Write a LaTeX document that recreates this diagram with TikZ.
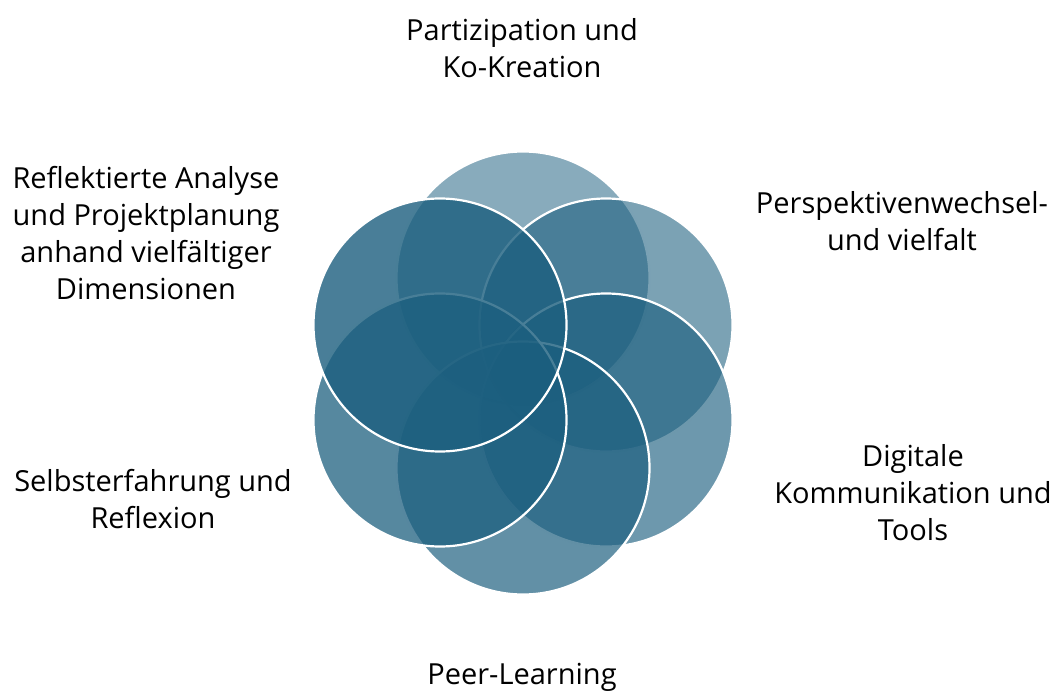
\documentclass[tikz,border=0pt]{standalone}
\usepackage{fontspec}
\setmainfont{Open Sans}
\definecolor{ringblue}{RGB}{27,94,126}
\tikzset{
  ring/.style={circle, draw=white, line width=2.2pt, fill=ringblue,
    minimum size=253pt, inner sep=0pt},
  ringtext/.style={align=center, font=\fontsize{29}{37}\selectfont, inner sep=0pt}
}

\begin{document}
\begin{tikzpicture}[x=1pt,y=-1pt]
    \useasboundingbox (0,0) rectangle (1055,695);
    % circles, drawn in order round the ring
    \foreach \n/\px/\py/\o in {top/523/278/0.52, ur/606/325/0.58, lr/606/420/0.64,
        bot/523/468/0.69, ll/440/420/0.74, ul/440/325/0.80}
      \node[ring, fill opacity=\o] (\n) at (\px,\py) {};
    % labels
    \node[ringtext] (partizipation) at (522,48) {Partizipation und\\Ko-Kreation};
    \node[ringtext] (perspektive) at (902,221) {Perspektivenwechsel-\\und vielfalt};
    \node[ringtext] (digital) at (913,493) {Digitale\\Kommunikation und\\Tools};
    \node[ringtext] (peer) at (522,677) {Peer-Learning};
    \node[ringtext] (selbst) at (153,499) {Selbsterfahrung und\\Reflexion};
    \node[ringtext] (analyse) at (146,233) {Reflektierte Analyse\\und Projektplanung\\anhand vielfältiger\\Dimensionen};
  \end{tikzpicture}
\end{document}
